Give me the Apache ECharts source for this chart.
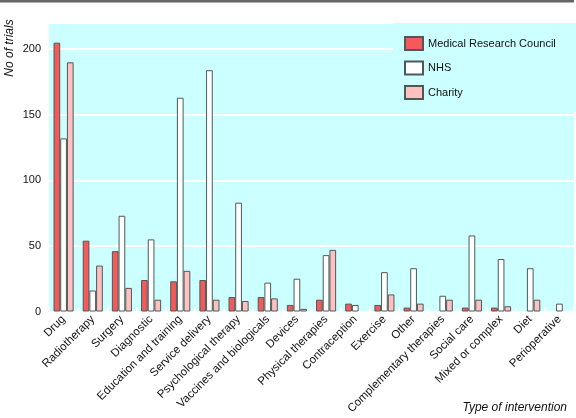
<!DOCTYPE html>
<html><head><meta charset="utf-8">
<script src="https://cdn.jsdelivr.net/npm/echarts@6/dist/echarts.min.js"></script>
<style>html,body{margin:0;padding:0;background:#fff}#c{width:576px;height:418px}</style>
</head><body><div id="c"></div>
<script>
const categories = ["Drug","Radiotherapy","Surgery","Diagnostic","Education and training","Service delivery","Psychological therapy","Vaccines and biologicals","Devices","Physical therapies","Contraception","Exercise","Other","Complementary therapies","Social care","Mixed or complex","Diet","Perioperative"];
const mrc =     [205,54,46,24,23,24,11,11,5,9,6,5,3,null,3,3,null,null];
const nhs =     [132,16,73,55,163,184,83,22,25,43,5,30,33,12,58,40,33,6];
const charity = [190,35,18,9,31,9,8,10,2,47,null,13,6,9,9,4,9,null];
const yTicks = [0,50,100,150,200];

const FONT = 'Liberation Sans';
const border = '#4d5959';
function s(name, data, color){
  return {name, type:'bar', data, barWidth:6.7, barGap:'0%',
    itemStyle:{color, borderColor:border, borderWidth:1}};
}
const chart = echarts.init(document.getElementById('c'));
chart.setOption({
  animation:false,
  textStyle:{fontFamily:FONT},
  grid:{left:49, right:2, top:23, bottom:106.5, show:true, backgroundColor:'#ccffff', borderWidth:0},
  legend:{orient:'vertical', left:393, top:23, padding:[13,23,12,11], backgroundColor:'#ccffff',
    itemWidth:18, itemHeight:13, itemGap:9.5, icon:'rect',
    textStyle:{fontFamily:FONT, fontSize:11, color:'#111'},
    data:['Medical Research Council','NHS','Charity']},
  xAxis:{type:'category', data:categories,
    axisLine:{show:false},
    axisTick:{show:true, inside:true, length:4, lineStyle:{color:'#ffffff', width:2}},
    axisLabel:{rotate:45, margin:6, fontSize:11.5, color:'#111', fontFamily:FONT, interval:0}},
  yAxis:{type:'value', min:0, max:220, interval:50,
    axisLine:{show:false}, axisTick:{show:false},
    axisLabel:{fontSize:11, color:'#111', margin:8, fontFamily:FONT,
      formatter:v=>yTicks.includes(v)?String(v):''},
    splitLine:{lineStyle:{color:'#ffffff', width:2}}},
  graphic:[
    {type:'rect', shape:{x:0,y:0,width:574,height:2.5}, style:{fill:'#666666'}},
    {type:'text', x:10, y:48, rotation:Math.PI/2, style:{text:'No of trials', font:'italic 12px "Liberation Sans"', fill:'#111', align:'center', verticalAlign:'middle'}},
    {type:'text', x:567, y:408, style:{text:'Type of intervention', font:'italic 12px "Liberation Sans"', fill:'#111', align:'right', verticalAlign:'middle'}}
  ],
  series:[
    s('Medical Research Council', mrc, '#f45a5a'),
    s('NHS', nhs, '#ffffff'),
    s('Charity', charity, '#ffc0c0')
  ]
});
</script></body></html>
